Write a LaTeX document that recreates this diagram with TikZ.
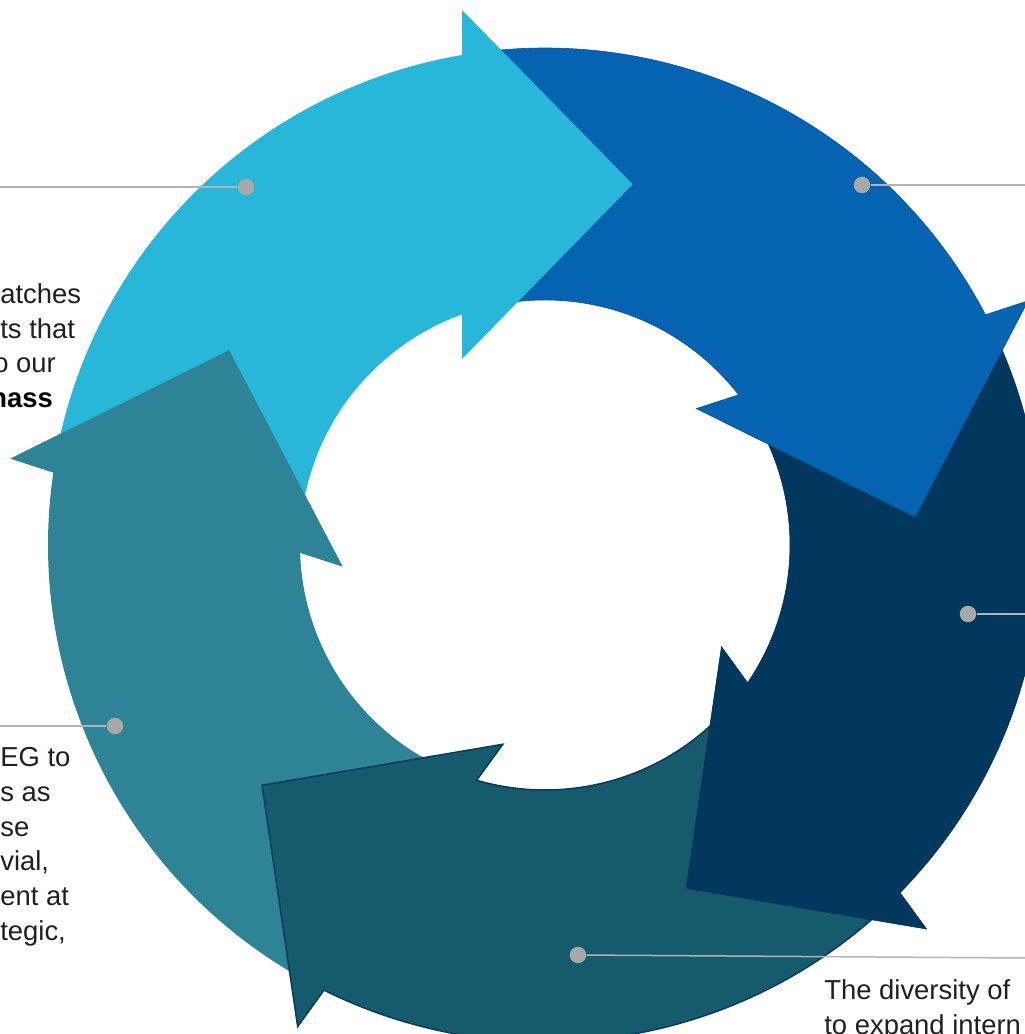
\documentclass[tikz,border=0pt]{standalone}
\usepackage{fontspec}
\setmainfont{Liberation Sans}
\usepackage{xcolor}
\usetikzlibrary{positioning}
\definecolor{cyanseg}{HTML}{29B7D9}
\definecolor{blueseg}{HTML}{0563B2}
\definecolor{blueline}{HTML}{0A5798}
\definecolor{navyseg}{HTML}{02385E}
\definecolor{navyline}{HTML}{023252}
\definecolor{petrolseg}{HTML}{165B6D}
\definecolor{petrolline}{HTML}{073A5C}
\definecolor{tealseg}{HTML}{2E8496}
\definecolor{dotgray}{HTML}{A8A8A8}
\definecolor{leadgray}{HTML}{B3B3B3}
\tikzset{
  cyanarc/.style   = {fill=cyanseg},
  bluearc/.style   = {fill=blueseg, draw=blueline, line width=0.12mm},
  navyarc/.style   = {fill=navyseg, draw=navyline, line width=0.12mm},
  petrolarc/.style = {fill=petrolseg, draw=petrolline, line width=0.3mm},
  tealarc/.style   = {fill=tealseg},
  marker/.style    = {circle, fill=dotgray, inner sep=0pt, minimum size=3.3mm},
  lead/.style      = {draw=leadgray, line width=0.3mm},
  blurb/.style     = {font=\fontsize{15.6pt}{19.8pt}\selectfont, text=black!88,
                      align=left, inner sep=0pt, anchor=north west},
}
% one segment of the ring, drawn in its own rotated frame
\newcommand{\ringarrow}{(169.5:497) arc[start angle=169.5, end angle=99.6, radius=497]
  -- (-83,535) -- (87.7,360.7) -- (-83,186)
  -- (109.8:245) arc[start angle=109.8, end angle=175, radius=245] -- cycle}

\begin{document}
\begin{tikzpicture}[x=0.2mm, y=0.2mm]
  \useasboundingbox (0,0) rectangle (1025,1034);
  \clip (0,0) rectangle (1025,1034);
  \coordinate (c) at (545,489);

  % ring of five arrows, each head lying over the next tail
  \foreach \k/\sty in {4/tealarc,3/petrolarc,2/navyarc,1/bluearc,0/cyanarc}{
    \pgfmathsetmacro{\ang}{-72*\k}
    \begin{scope}[shift={(c)}, rotate=\ang]
      \path[\sty] \ringarrow;
    \end{scope}
  }
  % teal head goes back on top of the cyan tail
  \begin{scope}[shift={(c)}, rotate=-288]
    \path[tealarc] (-83,535) -- (87.7,360.7) -- (-83,186) -- cycle;
  \end{scope}

  % markers and leader lines
  \node[marker] (m1) at (246,847) {};
  \node[marker] (m2) at (862,849) {};
  \node[marker] (m3) at (968,420) {};
  \node[marker] (m4) at (115,308) {};
  \node[marker] (m5) at (578,79) {};
  \coordinate (e1) at (0,847);
  \coordinate (e2) at (1025,849);
  \coordinate (e3) at (1025,420);
  \coordinate (e4) at (0,308);
  \coordinate (e5) at (1025,76);
  \draw[lead] (e1) -- (m1);
  \draw[lead] (m2) -- (e2);
  \draw[lead] (m3) -- (e3);
  \draw[lead] (e4) -- (m4);
  \draw[lead] (m5) -- (e5);

  % text blocks
  \node[blurb] (t1) at (0,751) {atches\\ts that\\\hspace*{-1.4mm}o our\\\hspace*{-2mm}\textbf{\color{black}nass}};
  \node[blurb] (t2) at (0,287) {EG to\\s as\\se\\vial,\\ent at\\tegic,};
  \node[blurb] (t3) at (824,55) {The diversity of\\to expand intern};
\end{tikzpicture}
\end{document}
